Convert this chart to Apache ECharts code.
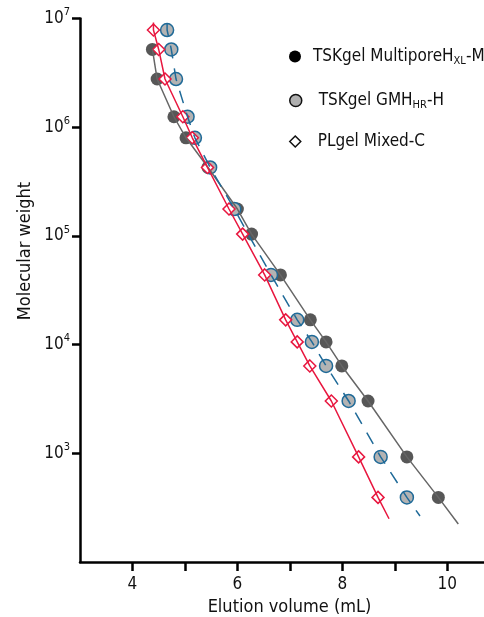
<!DOCTYPE html>
<html><head><meta charset="utf-8">
<script src="https://cdn.jsdelivr.net/npm/echarts@6/dist/echarts.min.js"></script>
<style>html,body{margin:0;padding:0;background:#fff}#c{width:484px;height:617px}</style>
</head><body><div id="c"></div>
<script>
// ---- data ----
const seriesNames = ['TSKgel MultiporeHXL-M', 'TSKgel GMHHR-H', 'PLgel Mixed-C'];

const multiporeVol = [4.38, 4.47, 4.79, 5.02, 5.44, 6.00, 6.27, 6.82, 7.39, 7.69, 7.99, 8.49, 9.23, 9.83];
const multiporeMW  = [5.2e6, 2.78e6, 1.25e6, 8.0e5, 4.27e5, 1.77e5, 1.04e5, 4.38e4, 1.69e4, 1.06e4, 6.37e3, 3.03e3, 927, 393];
const multiporeLineEnd = [10.21, 224];

const gmhVol = [4.66, 4.74, 4.83, 5.05, 5.19, 5.48, 5.94, 6.64, 7.14, 7.42, 7.69, 8.12, 8.73, 9.23];
const gmhMW  = [7.85e6, 5.2e6, 2.78e6, 1.25e6, 8.0e5, 4.27e5, 1.77e5, 4.38e4, 1.69e4, 1.06e4, 6.37e3, 3.03e3, 927, 393];
const gmhLineStart = [4.66, 9.1e6];
const gmhLineEnd = [9.48, 265];

const plgelVol = [4.40, 4.50, 4.62, 4.96, 5.14, 5.43, 5.84, 6.10, 6.52, 6.92, 7.14, 7.38, 7.79, 8.31, 8.68];
const plgelMW  = [7.85e6, 5.2e6, 2.78e6, 1.25e6, 8.0e5, 4.27e5, 1.77e5, 1.04e5, 4.38e4, 1.69e4, 1.06e4, 6.37e3, 3.03e3, 927, 393];
const plgelLineStart = [4.40, 9.2e6];
const plgelLineEnd = [8.89, 250];

const xTicks = [4, 5, 6, 7, 8, 9, 10];
const xTickLabels = [4, 6, 8, 10];
const yTicks = [1e3, 1e4, 1e5, 1e6, 1e7];

// ---- build ----
const FONT = "'Liberation Sans Narrow','DejaVu Sans Condensed',Roboto,sans-serif";
const zip = (xs, ys) => xs.map((x, i) => [x, ys[i]]);

const multiPts = zip(multiporeVol, multiporeMW);
const gmhPts = zip(gmhVol, gmhMW);
const plPts = zip(plgelVol, plgelMW);

const chart = echarts.init(document.getElementById('c'), null, {renderer: 'canvas'});

const legendBase = {
  orient: 'vertical', padding: 0, itemWidth: 12, itemHeight: 12,
  selectedMode: false,
  textStyle: {
    fontFamily: FONT, fontSize: 17, color: '#111',
    rich: {
      g: {width: 7, fontSize: 17, fontFamily: FONT},
      g2: {width: 12, fontSize: 17, fontFamily: FONT},
      sub: {fontSize: 11, fontFamily: FONT, color: '#111', padding: [9, 0, 0, 0]}
    }
  }
};

chart.setOption({
  animation: false,
  backgroundColor: '#fff',
  grid: {left: 80, right: 0, top: 18.6, bottom: 55, outerBoundsMode: 'none', containLabel: false},
  xAxis: {
    type: 'value', min: 3, max: 10.7, interval: 1,
    splitLine: {show: false},
    axisLine: {lineStyle: {color: '#000', width: 2.5}},
    axisTick: {customValues: xTicks, length: 9, lineStyle: {color: '#000', width: 2.5}},
    axisLabel: {customValues: xTickLabels, margin: 14, fontFamily: FONT, fontSize: 17, color: '#111'}
  },
  yAxis: {
    type: 'log', logBase: 10, min: 100, max: 1e7,
    splitLine: {show: false},
    axisLine: {lineStyle: {color: '#000', width: 2.5}},
    axisTick: {customValues: yTicks, length: 8, lineStyle: {color: '#000', width: 2.5}},
    axisLabel: {
      customValues: yTicks, margin: 10,
      formatter: v => '{b|10}{s|' + Math.round(Math.log10(v)) + '}',
      rich: {
        b: {fontFamily: FONT, fontSize: 17, color: '#111'},
        s: {fontFamily: FONT, fontSize: 11, color: '#111', padding: [0, 0, 12, 0]}
      }
    }
  },
  legend: [
    Object.assign({}, legendBase, {
      left: 289, top: 48,
      data: [{name: seriesNames[0], icon: 'circle', itemStyle: {color: '#000', borderWidth: 0}}],
      formatter: () => '{g| }TSKgel MultiporeH{sub|XL}-M'
    }),
    Object.assign({}, legendBase, {
      left: 289, top: 92,
      data: [{name: seriesNames[1], icon: 'circle', itemStyle: {color: '#b0b0b0', borderColor: '#111', borderWidth: 1.5}}],
      formatter: () => '{g2| }TSKgel GMH{sub|HR}-H'
    }),
    Object.assign({}, legendBase, {
      left: 289, top: 133, itemWidth: 11, itemHeight: 11,
      data: [{name: seriesNames[2], icon: 'diamond', itemStyle: {color: '#fff', borderColor: '#111', borderWidth: 1.5}}],
      formatter: () => '{g2| }PLgel Mixed-C'
    })
  ],
  graphic: [
    {type: 'text', x: 289.5, y: 607, style: {text: 'Elution volume (mL)', fontFamily: FONT, fontSize: 18, fill: '#111', align: 'center', verticalAlign: 'middle'}},
    {type: 'text', x: 25, y: 251, rotation: Math.PI / 2, style: {text: 'Molecular weight', fontFamily: FONT, fontSize: 18, fill: '#111', align: 'center', verticalAlign: 'middle'}}
  ],
  series: [
    {name: 'multipore-line', type: 'line', data: multiPts.concat([multiporeLineEnd]), showSymbol: false, symbol: 'none',
     lineStyle: {color: '#666', width: 1.5}, silent: true},
    {name: seriesNames[0], type: 'scatter', data: multiPts, symbol: 'circle', symbolSize: 13,
     itemStyle: {color: '#575757', opacity: 1}},
    {name: 'gmh-line', type: 'line', data: [gmhLineStart].concat(gmhPts, [gmhLineEnd]), showSymbol: false, symbol: 'none',
     lineStyle: {color: '#1f6a98', width: 1.5, type: [13, 10]}, silent: true},
    {name: seriesNames[1], type: 'scatter', data: gmhPts, symbol: 'circle', symbolSize: 13,
     itemStyle: {color: '#b3b3b3', borderColor: '#1f6a98', borderWidth: 1.5, opacity: 1}},
    {name: 'plgel-line', type: 'line', data: [plgelLineStart].concat(plPts, [plgelLineEnd]), showSymbol: false, symbol: 'none',
     lineStyle: {color: '#e8173f', width: 1.5}, silent: true},
    {name: seriesNames[2], type: 'scatter', data: plPts, symbol: 'diamond', symbolSize: 12,
     itemStyle: {color: '#fff', borderColor: '#e8173f', borderWidth: 1.5, opacity: 1}}
  ]
});
</script></body></html>
